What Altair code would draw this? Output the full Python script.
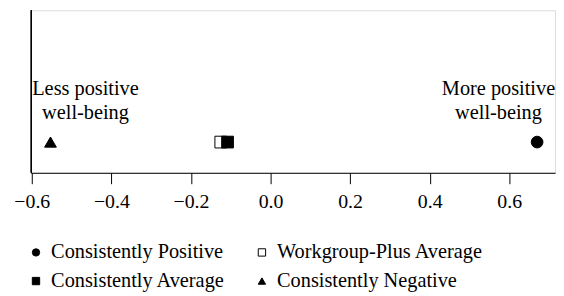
import altair as alt
import pandas as pd

groups = ["Consistently Positive", "Workgroup-Plus Average", "Consistently Average", "Consistently Negative"]
values = [0.67, -0.125, -0.108, -0.553]
legend_order = ["Consistently Positive", "Workgroup-Plus Average", "Consistently Average", "Consistently Negative"]
shapes = ["circle", "square", "square", "triangle-up"]
fills = ["black", "white", "black", "black"]
strokes = ["black", "black", "black", "black"]

ann_x = [-0.465, 0.573]
ann_text = ["Less positive\nwell-being", "More positive\nwell-being"]

ticks = [-0.6, -0.4, -0.2, 0.0, 0.2, 0.4, 0.6]

FONT = "Liberation Serif"

pts = pd.DataFrame({"group": groups, "value": values})
ann = pd.DataFrame({"x": ann_x, "label": ann_text})

xscale = alt.Scale(domain=[-0.6025, 0.715], nice=False, zero=False)

points = alt.Chart(pts).mark_point(filled=True, size=140, strokeWidth=1, opacity=1).encode(
    x=alt.X("value:Q", scale=xscale,
            axis=alt.Axis(values=ticks, format=".1f", title=None, grid=False,
                          labelFont=FONT, labelFontSize=20, labelColor="black",
                          tickColor="black", tickSize=11, labelPadding=8,
                          domainColor="black")),
    y=alt.value(133),
    shape=alt.Shape("group:N", scale=alt.Scale(domain=legend_order, range=shapes),
                    legend=alt.Legend(title=None, orient="none", legendX=-5, legendY=234,
                                      direction="horizontal", columns=2, columnPadding=26,
                                      rowPadding=8,
                                      labelFont=FONT, labelFontSize=20.5, labelColor="black",
                                      labelLimit=400, symbolSize=55, labelOffset=5,
                                      symbolStrokeWidth=1)),
    fill=alt.Fill("group:N", scale=alt.Scale(domain=legend_order, range=fills),
                  legend=alt.Legend(title=None)),
    stroke=alt.Stroke("group:N", scale=alt.Scale(domain=legend_order, range=strokes),
                      legend=alt.Legend(title=None)),
    order=alt.Order("value:Q", sort="ascending"),
)

texts = alt.Chart(ann).mark_text(font=FONT, fontSize=20.5, color="black", align="center",
                                 baseline="alphabetic", lineBreak="\n", lineHeight=25).encode(
    x=alt.X("x:Q", scale=xscale),
    y=alt.value(85),
    text="label:N",
)

left_edge = alt.Chart(pts).mark_rule(color="black", strokeWidth=1).encode(
    x=alt.value(0.5), y=alt.value(0), y2=alt.value(164)
)

chart = alt.layer(left_edge, texts, points).properties(
    width=529, height=164,
    padding={"left": 5, "top": 0, "right": 0, "bottom": 0},
).configure_view(stroke="black", strokeWidth=1).configure(background="white")

chart.save("out.html", embed_options={"renderer": "svg", "actions": False})
